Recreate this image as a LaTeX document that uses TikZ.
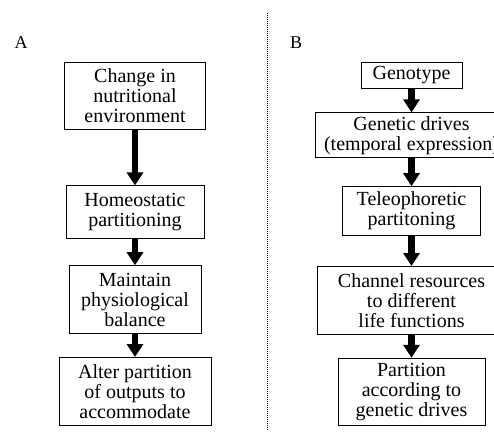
\documentclass[tikz,border=0pt]{standalone}
\usepackage{fontspec}
\setmainfont{Liberation Serif}
\usetikzlibrary{positioning,arrows.meta}

\begin{document}
\begin{tikzpicture}[x=1pt, y=1pt, node distance=24pt]
    % Define styles
    \tikzstyle{stage} = [rectangle, draw, line width=0.8pt, align=center, inner sep=2pt, font=\fontsize{20}{20}\selectfont]
    \tikzstyle{flow} = [line width=6.5pt, -{Triangle[length=13pt, width=16pt]}]
    \tikzstyle{panel} = [font=\fontsize{18}{18}\selectfont]

    \clip (0,0) rectangle (494,434);

    % Panel A
    \node[panel] (labelA) at (21,391) {A};
    \node[stage, minimum width=141pt, minimum height=67pt] (change) at (135,338.5) {Change in\\nutritional\\environment};
    \node[stage, minimum width=138pt, minimum height=53pt] (homeo) [below=56pt of change] {Homeostatic\\partitioning};
    \node[stage, minimum width=132pt, minimum height=68pt] (maintain) [below=26pt of homeo] {Maintain\\physiological\\balance};
    \node[stage, minimum width=152pt, minimum height=68pt] (alter) [below=23pt of maintain] {Alter partition\\of outputs to\\accommodate};

    % Divider
    \draw[line width=1pt, dash pattern=on 1pt off 1pt] (267,421) -- (267,4);

    % Panel B
    \node[panel] (labelB) at (296,391) {B};
    \node[stage, minimum width=101pt, minimum height=26pt] (genotype) at (411.5,359) {Genotype};
    \node[stage, minimum width=192pt, minimum height=45pt] (drives) [below=24pt of genotype] {Genetic drives\\(temporal expression)};
    \node[stage, minimum width=138pt, minimum height=49pt] (teleo) [below=28pt of drives] {Teleophoretic\\partitoning};
    \node[stage, minimum width=188pt, minimum height=68pt] (channel) [below=30pt of teleo] {Channel resources\\to different\\life functions};
    \node[stage, minimum width=147pt, minimum height=67pt] (partition) [below=23pt of channel] {Partition\\according to\\genetic drives};

    % Arrows
    \draw[flow] (change) -- (homeo);
    \draw[flow] (homeo) -- (maintain);
    \draw[flow] (maintain) -- (alter);
    \draw[flow] (genotype) -- (drives);
    \draw[flow] (drives) -- (teleo);
    \draw[flow] (teleo) -- (channel);
    \draw[flow] (channel) -- (partition);
\end{tikzpicture}
\end{document}
